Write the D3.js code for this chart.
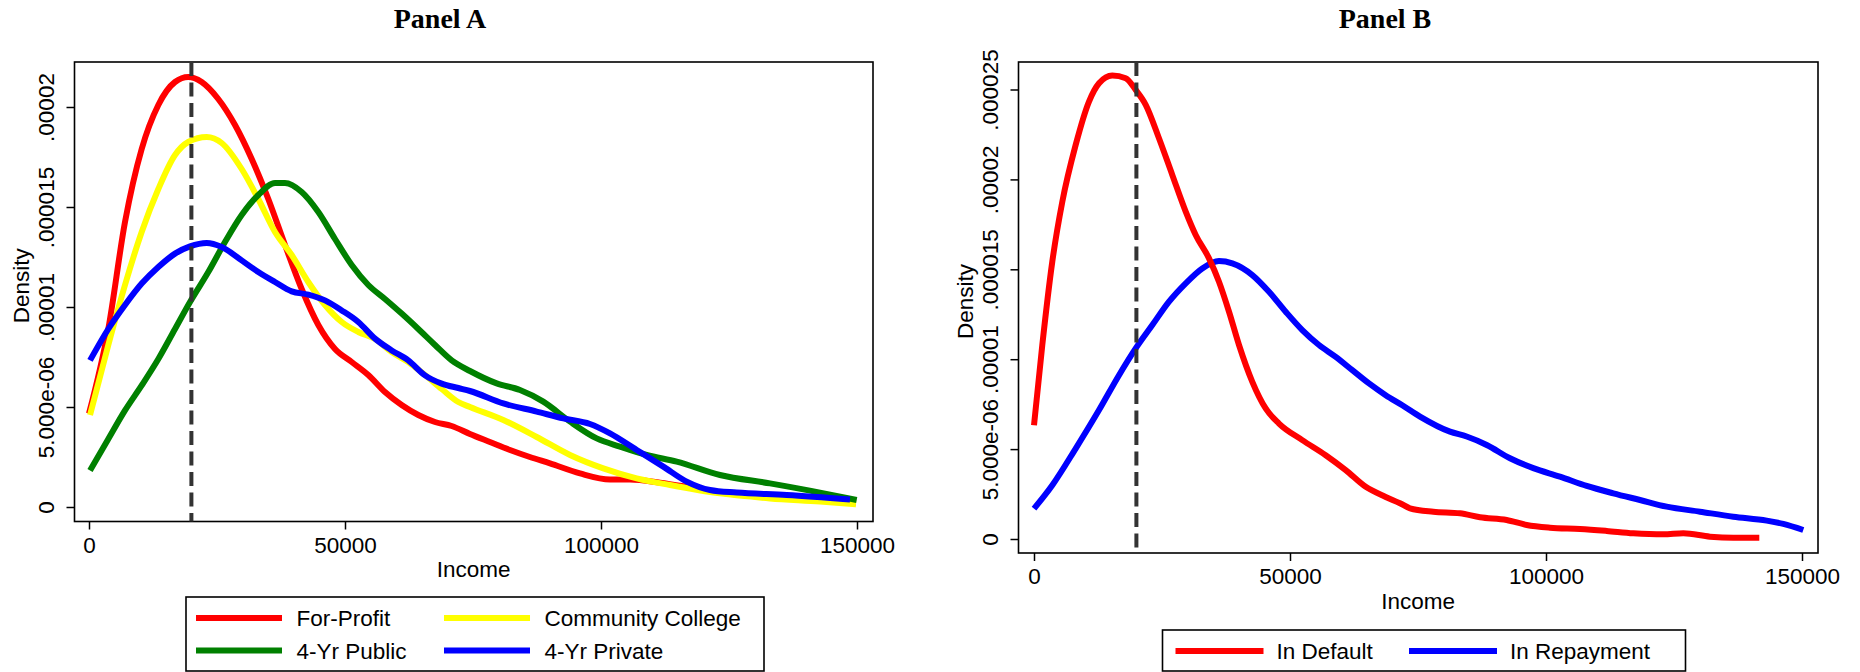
<!DOCTYPE html>
<html>
<head>
<meta charset="utf-8">
<script src="https://cdn.jsdelivr.net/npm/d3@7"></script>
<style>
  html, body { margin: 0; padding: 0; background: #fff; }
  svg { display: block; }
  .tick text, .lbl { font-family: "Liberation Sans", Arial, sans-serif; font-size: 22.5px; fill: #000; }
  .title { font-family: "Liberation Serif", "Times New Roman", serif; font-weight: bold; font-size: 28px; fill: #000; }
</style>
</head>
<body>
<svg id="chart" width="1860" height="672"></svg>
<script>
// ---------------- DATA ----------------
// x tick values / labels (Income)
const incomeTicks = [0, 50000, 100000, 150000];
const incomeTickLabels = ["0", "50000", "100000", "150000"];
// y tick values (in units of 1e-6) / labels
const densityTicksA = [0, 5, 10, 15, 20];
const densityLabelsA = ["0", "5.000e-06", ".00001", ".000015", ".00002"];
const densityTicksB = [0, 5, 10, 15, 20, 25];
const densityLabelsB = ["0", "5.000e-06", ".00001", ".000015", ".00002", ".000025"];
const cutoffIncome = 20000;

// Panel A series: [income, density x 1e-6]
const forProfit = [[0,4.67],[3770,8.9],[7030,14.25],[10290,17.9],[13540,20.1],[16800,21.25],[19390,21.5],[22010,21.25],[25250,20.4],[28520,19.1],[31780,17.4],[35020,15.4],[38280,13.1],[41540,10.9],[44790,9.1],[48050,7.9],[51310,7.25],[54550,6.6],[57810,5.75],[61070,5.1],[64320,4.6],[67580,4.25],[70840,4.05],[74400,3.65],[78300,3.25],[82230,2.85],[86100,2.5],[90040,2.18],[95900,1.68],[101760,1.38],[105660,1.38],[111520,1.22],[117380,0.98],[123240,0.72],[133010,0.48],[142770,0.35],[149800,0.22]];
const communityCollege = [[200,4.6],[3770,8.1],[7030,11.1],[10290,13.75],[13540,15.9],[16800,17.6],[19390,18.25],[22990,18.5],[25920,18.2],[29820,16.9],[33070,15.4],[36330,13.75],[39590,12.6],[42830,11.25],[46090,10.1],[49360,9.25],[52600,8.75],[55860,8.4],[59120,7.75],[62360,7.25],[65630,6.6],[68890,5.9],[72130,5.25],[74410,5.0],[80920,4.35],[87440,3.5],[93950,2.6],[100450,1.93],[106970,1.43],[113480,1.1],[123240,0.68],[133010,0.43],[142770,0.27],[149800,0.13]];
const public4Yr = [[200,1.83],[3770,3.4],[7030,4.83],[10290,6.08],[13540,7.4],[16800,8.9],[19730,10.25],[23300,11.75],[26560,13.25],[29820,14.6],[33070,15.6],[36330,16.2],[38280,16.2],[41540,15.75],[44790,14.75],[48050,13.4],[51310,12.1],[54550,11.1],[57810,10.4],[61070,9.67],[64320,8.9],[67580,8.1],[70840,7.33],[74410,6.8],[79630,6.18],[84180,5.85],[88730,5.27],[93950,4.27],[99160,3.43],[103710,3.02],[108930,2.6],[114790,2.27],[123240,1.6],[133010,1.18],[142770,0.72],[149940,0.35]];
const private4Yr = [[200,7.33],[3770,8.9],[7030,10.1],[10290,11.17],[13540,12.0],[16800,12.67],[19730,13.03],[22990,13.2],[25920,13.0],[29820,12.33],[33070,11.75],[36330,11.25],[39590,10.78],[42830,10.62],[46090,10.33],[49360,9.83],[52600,9.25],[55860,8.42],[59120,7.83],[62360,7.33],[65630,6.58],[68890,6.17],[72130,5.95],[74410,5.8],[80920,5.18],[87440,4.77],[92640,4.43],[97850,4.15],[101760,3.68],[106970,2.85],[112170,2.02],[116740,1.27],[121290,0.85],[126500,0.72],[136270,0.6],[148630,0.38]];

// Panel B series
const inDefault = [[0,6.33],[1620,10.79],[3570,15.42],[5530,18.76],[8140,21.92],[10740,24.33],[12700,25.35],[15290,25.78],[17910,25.63],[19860,24.98],[21820,24.15],[24410,22.29],[27010,20.25],[29630,18.21],[31580,16.91],[34180,15.61],[36130,14.31],[38090,12.64],[40040,10.79],[42640,8.74],[45250,7.26],[47850,6.42],[52400,5.5],[56970,4.66],[60880,3.83],[64790,2.9],[68690,2.34],[71480,1.99],[73440,1.71],[77990,1.52],[83200,1.43],[87110,1.21],[92320,1.06],[96230,0.78],[100780,0.63],[106640,0.56],[111860,0.45],[117050,0.32],[122910,0.26],[126820,0.32],[132030,0.13],[136580,0.07],[141660,0.07]];
const inRepayment = [[0,1.69],[3570,2.99],[8140,5.03],[12700,7.17],[16600,9.11],[19860,10.6],[23110,11.9],[26370,13.2],[29630,14.22],[32870,15.05],[36130,15.46],[38730,15.33],[42640,14.68],[45900,13.75],[49160,12.64],[52400,11.62],[55660,10.79],[58930,10.13],[62170,9.39],[65430,8.65],[68690,8.0],[71930,7.44],[75390,6.81],[81250,5.97],[84510,5.7],[88420,5.23],[92970,4.49],[97520,3.94],[102730,3.47],[107950,2.95],[113140,2.54],[118360,2.17],[123570,1.8],[130080,1.52],[136580,1.24],[143110,1.02],[146350,0.84],[150250,0.5]];

const seriesNamesA = ["For-Profit", "Community College", "4-Yr Public", "4-Yr Private"];
const seriesColorsA = ["#ff0000", "#ffff00", "#008000", "#0000ff"];
const seriesNamesB = ["In Default", "In Repayment"];
const seriesColorsB = ["#ff0000", "#0000ff"];

// ---------------- DRAW ----------------
const svg = d3.select("#chart");

function panel(cfg) {
  const g = svg.append("g");
  const f = cfg.frame;
  const x = d3.scaleLinear().domain([0, 150000]).range(cfg.xRange);
  const y = d3.scaleLinear().domain([0, cfg.yMax]).range(cfg.yRange);

  // title
  g.append("text").attr("class", "title").attr("x", cfg.titleX).attr("y", 28)
    .attr("text-anchor", "middle").text(cfg.title);

  // frame
  g.append("rect").attr("x", f.l).attr("y", f.t).attr("width", f.r - f.l).attr("height", f.b - f.t)
    .attr("fill", "none").attr("stroke", "#000").attr("stroke-width", 1.6);

  // x axis
  const xa = g.append("g").attr("transform", `translate(0,${f.b})`)
    .call(d3.axisBottom(x).tickValues(incomeTicks).tickSize(8)
      .tickFormat((d, i) => incomeTickLabels[i]));
  xa.select(".domain").remove();
  xa.selectAll(".tick line").attr("stroke", "#000").attr("stroke-width", 1.5);
  xa.selectAll(".tick text").attr("y", 31).attr("dy", 0).attr("font-size", null).attr("font-family", null);

  // y axis
  const ya = g.append("g").attr("transform", `translate(${f.l},0)`)
    .call(d3.axisLeft(y).tickValues(cfg.yTicks).tickSize(8)
      .tickFormat((d, i) => cfg.yLabels[i]));
  ya.select(".domain").remove();
  ya.selectAll(".tick line").attr("stroke", "#000").attr("stroke-width", 1.5);
  ya.selectAll(".tick text").attr("transform", "rotate(-90)").attr("x", 0).attr("y", -21)
    .attr("dy", 0).attr("text-anchor", "middle").attr("font-size", null).attr("font-family", null);
  g.attr("font-family", null).attr("font-size", null);

  // axis titles
  g.append("text").attr("class", "lbl").attr("x", (f.l + f.r) / 2).attr("y", f.b + 55.5)
    .attr("text-anchor", "middle").text("Income");
  g.append("text").attr("class", "lbl")
    .attr("transform", `translate(${f.l - 46},${(f.t + f.b) / 2 - 6}) rotate(-90)`)
    .attr("text-anchor", "middle").text("Density");

  // curves
  const line = d3.line().x(d => x(d[0])).y(d => y(d[1])).curve(d3.curveMonotoneX);
  cfg.series.forEach((s, i) => {
    g.append("path").datum(s).attr("d", line).attr("fill", "none")
      .attr("stroke", cfg.colors[i]).attr("stroke-width", 6)
      .attr("stroke-linejoin", "round").attr("stroke-linecap", "butt");
  });

  // dashed cutoff line
  g.append("line").attr("x1", x(cutoffIncome)).attr("x2", x(cutoffIncome))
    .attr("y1", f.t).attr("y2", f.b).attr("stroke", "#333").attr("stroke-width", 4)
    .attr("stroke-dasharray", "14,6.5");

  // legend
  const L = cfg.legend;
  g.append("rect").attr("x", L.l).attr("y", L.t).attr("width", L.r - L.l).attr("height", L.b - L.t)
    .attr("fill", "#fff").attr("stroke", "#000").attr("stroke-width", 1.6);
  cfg.names.forEach((n, i) => {
    const col = i % L.cols, row = Math.floor(i / L.cols);
    const lx = L.colX[col], ly = L.rowY[row];
    g.append("line").attr("x1", lx).attr("x2", lx + L.lineLen).attr("y1", ly).attr("y2", ly)
      .attr("stroke", cfg.colors[i]).attr("stroke-width", 6);
    g.append("text").attr("class", "lbl").attr("x", lx + L.textOff).attr("y", ly + 8).text(n);
  });
}

panel({
  title: "Panel A", titleX: 440,
  frame: { l: 74.5, r: 873, t: 62, b: 521.5 },
  xRange: [89, 857], yRange: [507, 107], yMax: 20,
  yTicks: densityTicksA, yLabels: densityLabelsA,
  series: [forProfit, communityCollege, public4Yr, private4Yr],
  colors: seriesColorsA, names: seriesNamesA,
  legend: { l: 186, r: 764, t: 597, b: 671, cols: 2, colX: [196, 444], rowY: [618, 650.5], lineLen: 86, textOff: 100.5 }
});

panel({
  title: "Panel B", titleX: 1385,
  frame: { l: 1018.5, r: 1818, t: 62, b: 553 },
  xRange: [1034, 1802], yRange: [539, 89.5], yMax: 25,
  yTicks: densityTicksB, yLabels: densityLabelsB,
  series: [inRepayment, inDefault],
  colors: [seriesColorsB[1], seriesColorsB[0]], names: [],
  legend: { l: 1162.5, r: 1685.5, t: 630, b: 671, cols: 2, colX: [1175.5, 1409], rowY: [651], lineLen: 88, textOff: 101 }
});

// Panel B legend entries (in legend order)
(function () {
  const g = svg.append("g");
  const colX = [1175.5, 1409];
  seriesNamesB.forEach((n, i) => {
    g.append("line").attr("x1", colX[i]).attr("x2", colX[i] + 88).attr("y1", 651).attr("y2", 651)
      .attr("stroke", seriesColorsB[i]).attr("stroke-width", 6);
    g.append("text").attr("class", "lbl").attr("x", colX[i] + 101).attr("y", 659).text(n);
  });
})();
</script>
</body>
</html>
